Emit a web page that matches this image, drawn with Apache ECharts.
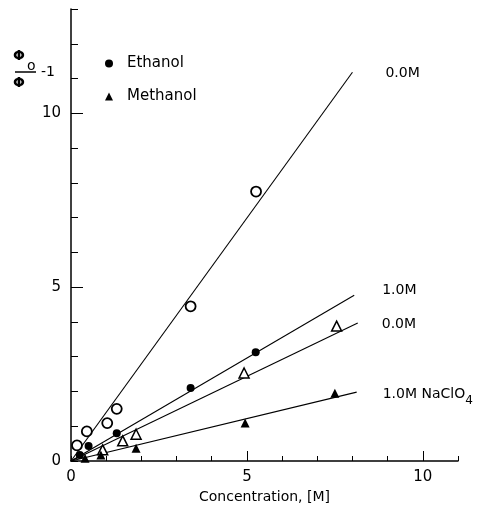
<!DOCTYPE html>
<html>
<head>
<meta charset="utf-8">
<script src="https://cdn.jsdelivr.net/npm/echarts@6/dist/echarts.min.js"></script>
<style>html,body{margin:0;padding:0;background:#fff}#c{width:495px;height:515px}</style>
</head>
<body>
<div id="c"></div>
<script>
// Data
const xMajorTicks = [0, 5, 10];
const yMajorTicks = [0, 5, 10];
const ethanol00 = [[0.17,0.45],[0.45,0.85],[1.03,1.09],[1.3,1.5],[3.4,4.45],[5.26,7.75]];
const ethanol10 = [[0.25,0.17],[0.5,0.43],[1.3,0.8],[3.4,2.1],[5.25,3.13]];
const methanol00 = [[0.9,0.32],[1.47,0.58],[1.85,0.77],[4.92,2.53],[7.55,3.88]];
const methanol10 = [[0.4,0.08],[0.85,0.17],[1.85,0.37],[4.95,1.09],[7.5,1.95]];
const fitE00 = [[0,0],[8.0,11.18]];
const fitE10 = [[0,0],[8.05,4.77]];
const fitM00 = [[0,0],[8.15,3.97]];
const fitM10 = [[0,0],[8.12,1.98]];
const lineLabels = ['0.0M', '1.0M', '0.0M', '1.0M NaClO'];

const FONT = 'DejaVu Sans';
const INK = '#000';
const chart = echarts.init(document.getElementById('c'), null, {renderer: 'canvas'});

function fitLine(data, label, offset, rich) {
  return {
    type: 'line', data: data, symbol: 'none', silent: true, z: 2,
    lineStyle: {color: INK, width: 1.1},
    endLabel: {show: true, formatter: label, position: 'right', distance: 0, offset: offset,
      fontFamily: FONT, fontSize: 14, color: INK, rich: rich}
  };
}

const option = {
  animation: false,
  backgroundColor: '#fff',
  grid: {left: 71, top: 9, right: 37, bottom: 54},
  legend: {
    orient: 'vertical', left: 100, top: 51, itemGap: 18, selectedMode: false,
    itemWidth: 8, itemHeight: 8,
    data: [{name: 'Ethanol', icon: 'circle'}, {name: 'Methanol', icon: 'triangle'}],
    textStyle: {fontFamily: FONT, fontSize: 15, color: INK, padding: [0,0,0,9]}
  },
  xAxis: [{
    type: 'value', min: 0, max: 11, interval: 1,
    name: 'Concentration, [M]', nameLocation: 'middle', nameGap: 24,
    nameTextStyle: {fontFamily: FONT, fontSize: 14, color: INK},
    axisLine: {show: true, lineStyle: {color: INK, width: 1.5}},
    axisTick: {show: true, inside: true, length: 5, lineStyle: {color: INK, width: 1}},
    axisLabel: {show: true, margin: 9, fontFamily: FONT, fontSize: 15, color: INK,
      customValues: xMajorTicks},
    splitLine: {show: false}
  }, {
    type: 'value', min: 0, max: 11, position: 'bottom',
    axisLine: {show: false}, axisLabel: {show: false}, splitLine: {show: false},
    axisTick: {show: true, inside: true, length: 10, customValues: [5, 10], lineStyle: {color: INK, width: 1}}
  }],
  yAxis: [{
    type: 'value', min: 0, max: 13, interval: 1,
    axisLine: {show: true, lineStyle: {color: INK, width: 1.5}},
    axisTick: {show: true, inside: true, length: 7, lineStyle: {color: INK, width: 1}},
    axisLabel: {show: true, margin: 10, fontFamily: FONT, fontSize: 15, color: INK,
      customValues: yMajorTicks},
    splitLine: {show: false}
  }, {
    type: 'value', min: 0, max: 13, position: 'left',
    axisLine: {show: false}, axisLabel: {show: false}, splitLine: {show: false},
    axisTick: {show: true, inside: true, length: 12, customValues: [5, 10], lineStyle: {color: INK, width: 1}}
  }],
  graphic: [
    {type: 'text', left: 13, top: 49, style: {text: 'Φ', fontFamily: FONT, fontSize: 14, fontWeight: 'bold', fill: INK}},
    {type: 'text', left: 27, top: 59, style: {text: 'o', fontFamily: FONT, fontSize: 14, fill: INK}},
    {type: 'line', shape: {x1: 15, y1: 72, x2: 36, y2: 72}, style: {stroke: INK, lineWidth: 1.5}},
    {type: 'text', left: 13, top: 76, style: {text: 'Φ', fontFamily: FONT, fontSize: 14, fontWeight: 'bold', fill: INK}},
    {type: 'text', left: 41, top: 65, style: {text: '-1', fontFamily: FONT, fontSize: 14, fill: INK}}
  ],
  series: [
    fitLine(fitE00, lineLabels[0], [33, 1]),
    fitLine(fitE10, lineLabels[1], [28, -5]),
    fitLine(fitM00, lineLabels[2], [24, 1]),
    fitLine(fitM10, '{a|' + lineLabels[3] + '}{s|4}', [26, 2],
      {a: {fontFamily: FONT, fontSize: 14, color: INK}, s: {fontFamily: FONT, fontSize: 12, color: INK, padding: [14,0,0,0]}}),
    {name: 'Ethanol 0.0M', type: 'scatter', data: ethanol00, symbol: 'circle', symbolSize: 10, z: 5,
      itemStyle: {color: '#fff', borderColor: INK, borderWidth: 1.8, opacity: 1}},
    {name: 'Ethanol', type: 'scatter', data: ethanol10, symbol: 'circle', symbolSize: 8, z: 5,
      itemStyle: {color: INK, opacity: 1}},
    {name: 'Methanol 0.0M', type: 'scatter', data: methanol00, symbol: 'triangle', symbolSize: 10, z: 5,
      itemStyle: {color: '#fff', borderColor: INK, borderWidth: 1.5, opacity: 1}},
    {name: 'Methanol', type: 'scatter', data: methanol10, symbol: 'triangle', symbolSize: 9, z: 5,
      itemStyle: {color: INK, opacity: 1}}
  ]
};
chart.setOption(option);
</script>
</body>
</html>
